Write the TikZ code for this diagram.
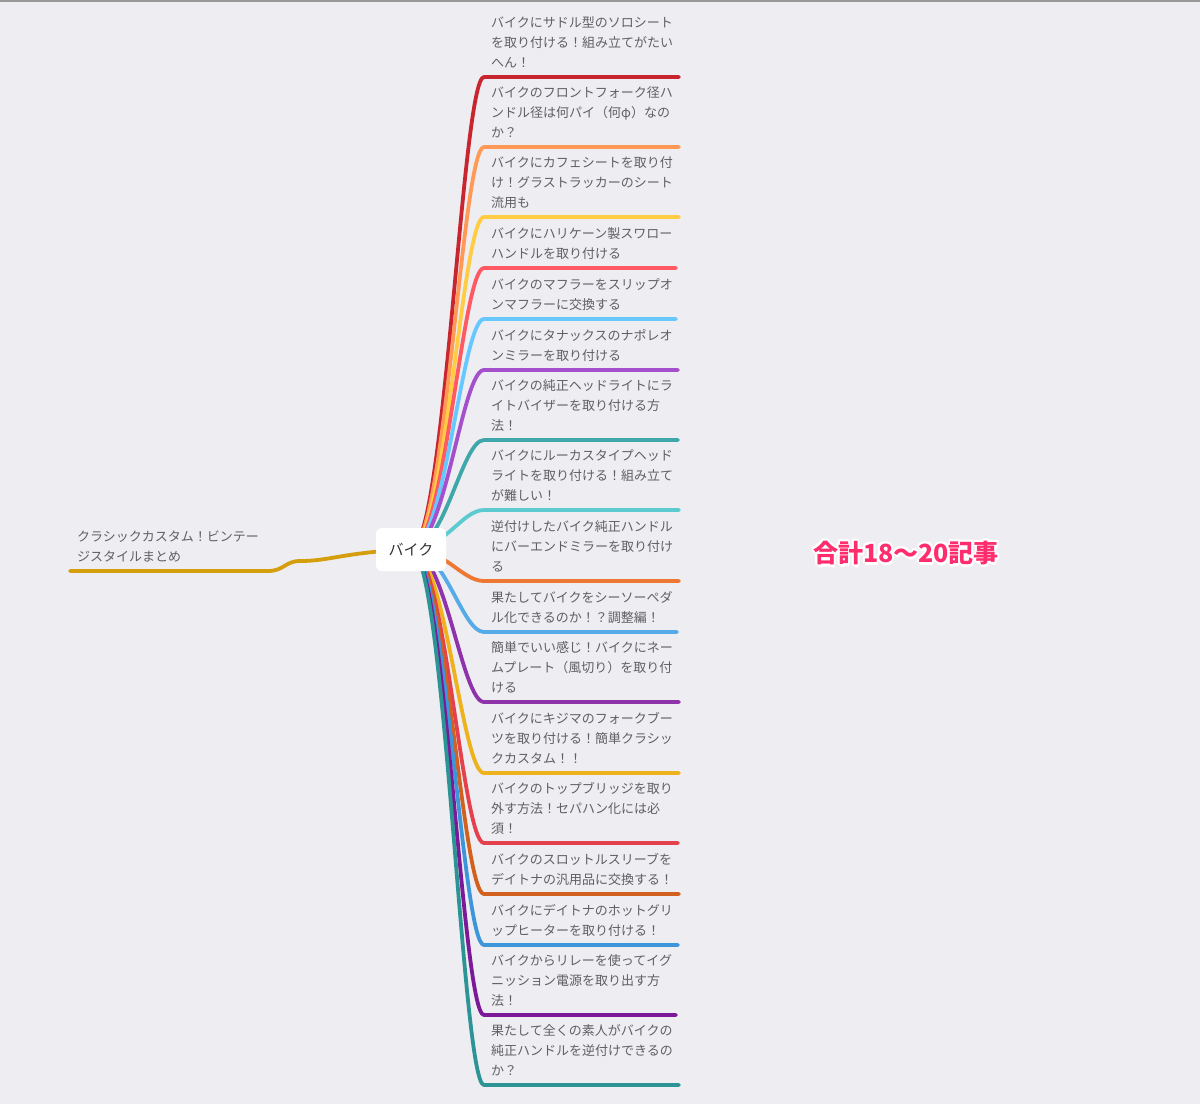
\documentclass[tikz,border=0pt]{standalone}
\usepackage{fontspec}
\setmainfont{Noto Sans CJK JP}
\usepackage{tikz}
\usepackage{xcolor}

\definecolor{paper}{RGB}{238,237,242}
\definecolor{inkgray}{RGB}{96,96,100}
\definecolor{sumpink}{RGB}{255,44,110}
\definecolor{cL}{RGB}{212,158,12}
\definecolor{c1}{RGB}{201,37,47}
\definecolor{c2}{RGB}{255,153,85}
\definecolor{c3}{RGB}{255,204,68}
\definecolor{c4}{RGB}{255,90,100}
\definecolor{c5}{RGB}{102,200,255}
\definecolor{c6}{RGB}{164,79,204}
\definecolor{c7}{RGB}{63,167,169}
\definecolor{c8}{RGB}{91,203,207}
\definecolor{c9}{RGB}{238,119,51}
\definecolor{c10}{RGB}{85,170,232}
\definecolor{c11}{RGB}{142,51,170}
\definecolor{c12}{RGB}{237,178,28}
\definecolor{c13}{RGB}{229,65,77}
\definecolor{c14}{RGB}{210,96,31}
\definecolor{c15}{RGB}{61,149,218}
\definecolor{c16}{RGB}{122,26,153}
\definecolor{c17}{RGB}{44,148,148}

\begin{document}
\begin{tikzpicture}[x=1pt, y=-1pt,
    branch/.style={line width=3.8pt, line cap=round, line join=round},
    leaf/.style={anchor=base west, inner sep=0pt, align=left, text=inkgray, font=\fontsize{13}{20}\selectfont},
    root/.style={rectangle, fill=white, rounded corners=6pt, minimum width=70pt, minimum height=43pt, inner sep=0pt, text=black!80, font=\fontsize{15}{15}\selectfont}]

    % canvas
    \fill[paper] (0,0) rectangle (1200,1104);
    \useasboundingbox (0,0) rectangle (1200,1104);
    \draw[black!40, line width=1.6pt] (0,0.8) -- (1200,0.8);

    \coordinate (hub) at (411,549);
    \coordinate (rim) at (679,0);
    \coordinate (lend) at (70,571);

    % branches to the right
    \draw[branch, c1] (hub) .. controls (445,549) and (462,77) .. (484,77) -- (484,77 -| rim);
    \draw[branch, c2] (hub) .. controls (445,549) and (462,147) .. (484,147) -- (484,147 -| rim);
    \draw[branch, c3] (hub) .. controls (445,549) and (462,217) .. (484,217) -- (484,217 -| rim);
    \draw[branch, c4] (hub) .. controls (445,549) and (462,268) .. (484,268) -- (676,268);
    \draw[branch, c5] (hub) .. controls (445,549) and (462,319) .. (484,319) -- (676,319);
    \draw[branch, c6] (hub) .. controls (445,549) and (462,370) .. (484,370) -- (678,370);
    \draw[branch, c7] (hub) .. controls (445,549) and (462,440) .. (484,440) -- (678,440);
    \draw[branch, c8] (hub) .. controls (445,549) and (462,510) .. (484,510) -- (484,510 -| rim);
    \draw[branch, c9] (hub) .. controls (445,549) and (462,581) .. (484,581) -- (484,581 -| rim);
    \draw[branch, c10] (hub) .. controls (445,549) and (462,632) .. (484,632) -- (677,632);
    \draw[branch, c11] (hub) .. controls (445,549) and (462,702) .. (484,702) -- (484,702 -| rim);
    \draw[branch, c12] (hub) .. controls (445,549) and (462,773) .. (484,773) -- (484,773 -| rim);
    \draw[branch, c13] (hub) .. controls (445,549) and (462,843) .. (484,843) -- (678,843);
    \draw[branch, c14] (hub) .. controls (445,549) and (462,894) .. (484,894) -- (484,894 -| rim);
    \draw[branch, c15] (hub) .. controls (445,549) and (462,945) .. (484,945) -- (678,945);
    \draw[branch, c16] (hub) .. controls (445,549) and (462,1015) .. (484,1015) -- (676,1015);
    \draw[branch, c17] (hub) .. controls (445,549) and (462,1085) .. (484,1085) -- (484,1085 -| rim);

    % branch to the left
    \draw[branch, cL] (hub) .. controls (340,553) and (330,561) .. (300,561)
        .. controls (285,561) and (284,571) .. (268,571) -- (lend);

    \node[root] (bike) at (411,549.5) {バイク};

    \node[leaf] (l1) at (77,561) {クラシックカスタム！ビンテー\\ジスタイルまとめ};

    \node[leaf] (t1) at (491,67) {バイクにサドル型のソロシート\\を取り付ける！組み立てがたい\\へん！};
    \node[leaf] (t2) at (491,137) {バイクのフロントフォーク径ハ\\ンドル径は何パイ（何φ）なの\\か？};
    \node[leaf] (t3) at (491,207) {バイクにカフェシートを取り付\\け！グラストラッカーのシート\\流用も};
    \node[leaf] (t4) at (491,258) {バイクにハリケーン製スワロー\\ハンドルを取り付ける};
    \node[leaf] (t5) at (491,309) {バイクのマフラーをスリップオ\\ンマフラーに交換する};
    \node[leaf] (t6) at (491,360) {バイクにタナックスのナポレオ\\ンミラーを取り付ける};
    \node[leaf] (t7) at (491,430) {バイクの純正ヘッドライトにラ\\イトバイザーを取り付ける方\\法！};
    \node[leaf] (t8) at (491,500) {バイクにルーカスタイプヘッド\\ライトを取り付ける！組み立て\\が難しい！};
    \node[leaf] (t9) at (491,571) {逆付けしたバイク純正ハンドル\\にバーエンドミラーを取り付け\\る};
    \node[leaf] (t10) at (491,622) {果たしてバイクをシーソーペダ\\ル化できるのか！？調整編！};
    \node[leaf] (t11) at (491,692) {簡単でいい感じ！バイクにネー\\ムプレート（風切り）を取り付\\ける};
    \node[leaf] (t12) at (491,763) {バイクにキジマのフォークブー\\ツを取り付ける！簡単クラシッ\\クカスタム！！};
    \node[leaf] (t13) at (491,833) {バイクのトップブリッジを取り\\外す方法！セパハン化には必\\須！};
    \node[leaf] (t14) at (491,884) {バイクのスロットルスリーブを\\デイトナの汎用品に交換する！};
    \node[leaf] (t15) at (491,935) {バイクにデイトナのホットグリ\\ップヒーターを取り付ける！};
    \node[leaf] (t16) at (491,1005) {バイクからリレーを使ってイグ\\ニッション電源を取り出す方\\法！};
    \node[leaf] (t17) at (491,1075) {果たして全くの素人がバイクの\\純正ハンドルを逆付けできるの\\か？};

    % total, with a white rim
    \foreach \dx/\dy [count=\k] in {-2/0,2/0,0/-2,0/2,-1.5/-1.5,1.5/-1.5,-1.5/1.5,1.5/1.5,1/3} {
        \node[text=white, font=\bfseries\fontsize{25}{25}\selectfont] (rimtext\k) at (906+\dx,553+\dy) {合計18〜20記事};
    }
    \node[text=sumpink, font=\bfseries\fontsize{25}{25}\selectfont] (total) at (906,553) {合計18〜20記事};
\end{tikzpicture}
\end{document}
